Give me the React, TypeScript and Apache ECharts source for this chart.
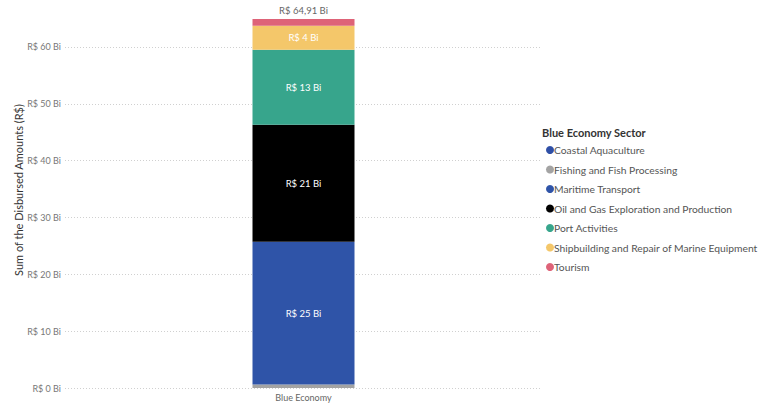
import React, { useEffect, useRef } from "react";
import * as echarts from "echarts";

const categories = ["Blue Economy"];
const sectors = [
  "Coastal Aquaculture",
  "Fishing and Fish Processing",
  "Maritime Transport",
  "Oil and Gas Exploration and Production",
  "Port Activities",
  "Shipbuilding and Repair of Marine Equipment",
  "Tourism",
];
const values = [0.02, 0.6, 25.1, 20.6, 13.2, 4.2, 1.19];
const colors = ["#2F4FA6", "#A3A3A3", "#2F54A8", "#000000", "#37A58C", "#F4C76A", "#DE6378"];
const showInside = [false, false, true, true, true, true, false];
const yTicks = [0, 10, 20, 30, 40, 50, 60];

const FONT = "Lato, 'Open Sans', 'Noto Sans', sans-serif";

export default function App() {
  const ref = useRef<HTMLDivElement>(null);
  useEffect(() => {
    if (!ref.current) return;
    const chart = echarts.init(ref.current, null, { renderer: "svg" });
    const total = values.reduce((a, b) => a + b, 0);
    const series = sectors.map((name, i) => ({
      name,
      type: "bar",
      stack: "total",
      barWidth: 102,
      itemStyle: { color: colors[i] },
      emphasis: { disabled: true },
      data: [values[i]],
      label:
        i === sectors.length - 1
          ? {
              show: true,
              position: "top",
              distance: 4,
              color: "#666",
              fontSize: 9.5,
              fontFamily: FONT,
              formatter: () => "R$ " + total.toFixed(2).replace(".", ",") + " Bi",
            }
          : {
              show: showInside[i],
              position: "inside",
              color: "#fff",
              fontSize: 9.5,
              fontFamily: FONT,
              formatter: (p: any) => "R$ " + Math.round(p.value) + " Bi",
            },
    }));
    chart.setOption({
      animation: false,
      grid: { left: 65, right: 223, top: 19, bottom: 17, containLabel: false },
      xAxis: {
        type: "category",
        data: categories,
        axisLine: { show: false },
        axisTick: { show: false },
        axisLabel: { color: "#666", fontSize: 9, fontFamily: FONT, margin: 5 },
      },
      yAxis: {
        type: "value",
        min: yTicks[0],
        max: total,
        interval: 10,
        axisLine: { show: false },
        axisTick: { show: false },
        axisLabel: {
          color: "#777",
          fontSize: 9,
          fontFamily: FONT,
          margin: 4,
          showMaxLabel: false,
          formatter: (v: number) => (yTicks.includes(v) ? "R$ " + v + " Bi" : ""),
        },
        splitLine: {
          show: true,
          showMaxLine: false,
          lineStyle: { color: "#d0d0d0", type: [1, 2], width: 1 },
        },
      },
      legend: {
        orient: "vertical",
        left: 541,
        top: 138,
        icon: "circle",
        itemWidth: 8,
        itemHeight: 8,
        itemGap: 5.5,
        selectedMode: false,
        data: sectors,
        textStyle: { color: "#555", fontSize: 10.3, fontFamily: FONT, lineHeight: 14, padding: [0, 0, 0, -5] },
      },
      graphic: [
        {
          type: "text",
          left: 542,
          top: 127,
          style: { text: "Blue Economy Sector", fill: "#333", font: "bold 11px " + FONT },
        },
        {
          type: "text",
          x: 18,
          y: 190,
          rotation: Math.PI / 2,
          style: {
            text: "Sum of the Disbursed Amounts (R$)",
            fill: "#333",
            font: "11px " + FONT,
            align: "center",
            verticalAlign: "middle",
          },
        },
      ],
      series,
    });
    return () => chart.dispose();
  }, []);
  return (
    <div
      ref={ref}
      style={{ position: "fixed", left: 0, top: 0, width: 765, height: 405, background: "#fff" }}
    />
  );
}
